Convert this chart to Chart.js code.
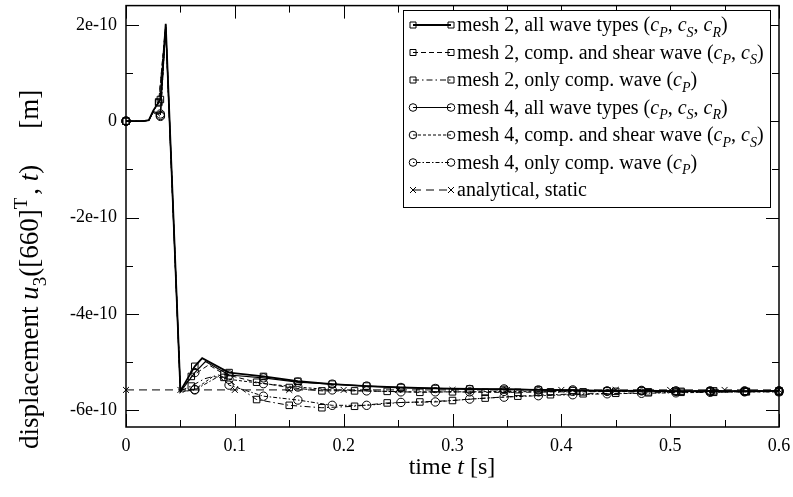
<!DOCTYPE html>
<html>
<head>
<meta charset="utf-8">
<script src="https://cdn.jsdelivr.net/npm/chart.js@4.4.0/dist/chart.umd.min.js"></script>
<style>
  html, body { margin: 0; padding: 0; background: #fff; }
</style>
</head>
<body>
<canvas id="grafico" width="793" height="497"></canvas>
<script>
// tiempos en s, desplazamientos en 1e-10 m
const tMesh2All = [0, 0.0158, 0.021, 0.025, 0.0316, 0.0365, 0.05, 0.0632, 0.07, 0.0947, 0.1263, 0.1579, 0.1895, 0.2211, 0.2526, 0.2842, 0.3158, 0.3474, 0.3789, 0.4105, 0.4421, 0.4737, 0.5053, 0.5368, 0.5684, 0.6];
const uMesh2All = [0, 0, 0.02, 0.22, 0.45, 2.02, -5.6, -5.09, -4.92, -5.22, -5.3, -5.4, -5.46, -5.5, -5.53, -5.55, -5.56, -5.57, -5.58, -5.59, -5.6, -5.6, -5.61, -5.6, -5.61, -5.6];

const tMesh2CS = [0, 0.015, 0.021, 0.025, 0.03, 0.0365, 0.05, 0.06, 0.076, 0.09, 0.12, 0.15, 0.18, 0.21, 0.24, 0.27, 0.3, 0.33, 0.36, 0.39, 0.42, 0.45, 0.48, 0.51, 0.54, 0.57, 0.6];
const uMesh2CS = [0, 0, 0.02, 0.2, 0.4, 2.0, -5.6, -5.3, -5.06, -5.25, -5.42, -5.53, -5.6, -5.6, -5.61, -5.63, -5.62, -5.63, -5.63, -5.62, -5.62, -5.61, -5.62, -5.61, -5.6, -5.61, -5.6];

const tMesh2C = [0, 0.015, 0.021, 0.025, 0.03, 0.0365, 0.05, 0.06, 0.072, 0.085, 0.09, 0.12, 0.15, 0.18, 0.21, 0.24, 0.27, 0.3, 0.33, 0.36, 0.39, 0.42, 0.45, 0.48, 0.51, 0.54, 0.57, 0.6];
const uMesh2C = [0, 0, 0.02, 0.2, 0.38, 1.98, -5.6, -5.5, -5.35, -5.27, -5.32, -5.78, -5.9, -5.95, -5.92, -5.85, -5.83, -5.8, -5.75, -5.71, -5.68, -5.66, -5.65, -5.64, -5.63, -5.63, -5.62, -5.62];

const tMesh4All = [0, 0.0158, 0.021, 0.025, 0.0316, 0.0365, 0.05, 0.0632, 0.073, 0.0947, 0.1263, 0.1579, 0.1895, 0.2211, 0.2526, 0.2842, 0.3158, 0.3474, 0.3789, 0.4105, 0.4421, 0.4737, 0.5053, 0.5368, 0.5684, 0.6];
const uMesh4All = [0, 0, 0.02, 0.2, 0.15, 1.96, -5.62, -5.22, -4.99, -5.27, -5.33, -5.42, -5.46, -5.5, -5.53, -5.55, -5.57, -5.56, -5.58, -5.58, -5.6, -5.59, -5.6, -5.61, -5.6, -5.6];

const tMesh4CS = [0, 0.0158, 0.021, 0.025, 0.0316, 0.0365, 0.05, 0.0632, 0.08, 0.0947, 0.1263, 0.1579, 0.1895, 0.2211, 0.2526, 0.2842, 0.3158, 0.3474, 0.3789, 0.4105, 0.4421, 0.4737, 0.5053, 0.5368, 0.5684, 0.6];
const uMesh4CS = [0, 0, 0.02, 0.18, 0.12, 1.94, -5.62, -5.57, -5.3, -5.36, -5.45, -5.52, -5.58, -5.6, -5.62, -5.62, -5.62, -5.61, -5.62, -5.61, -5.61, -5.6, -5.61, -5.6, -5.61, -5.6];

const tMesh4C = [0, 0.0158, 0.021, 0.025, 0.0316, 0.0365, 0.05, 0.0632, 0.085, 0.0947, 0.1263, 0.1579, 0.1895, 0.2211, 0.2526, 0.2842, 0.3158, 0.3474, 0.3789, 0.4105, 0.4421, 0.4737, 0.5053, 0.5368, 0.5684, 0.6];
const uMesh4C = [0, 0, 0.02, 0.18, 0.1, 1.92, -5.62, -5.58, -5.3, -5.48, -5.71, -5.79, -5.9, -5.9, -5.84, -5.83, -5.77, -5.73, -5.7, -5.68, -5.66, -5.65, -5.64, -5.63, -5.62, -5.62];

const tStatic = [0, 0.05, 0.1, 0.15, 0.2, 0.25, 0.3, 0.35, 0.4, 0.45, 0.5, 0.55, 0.6];
const uStatic = [-5.58, -5.58, -5.58, -5.58, -5.58, -5.58, -5.58, -5.58, -5.58, -5.58, -5.58, -5.58, -5.58];

const xTicks = [0, 0.1, 0.2, 0.3, 0.4, 0.5, 0.6];
const xTickLabels = ['0', '0.1', '0.2', '0.3', '0.4', '0.5', '0.6'];
const yTicks = [-6, -4, -2, 0, 2];
const yTickLabels = ['-6e-10', '-4e-10', '-2e-10', '0', '2e-10'];

const FUENTE = '"Liberation Serif", "Times New Roman", serif';

function puntos(t, u) {
    return t.map((v, i) => ({ x: v, y: u[i] }));
}

// marcador solo cada "paso" segundos (como en xmgrace)
function radioMarcador(paso, r) {
    return function (ctx) {
        if (!ctx.raw) return 0;
        const k = ctx.raw.x / paso;
        return Math.abs(k - Math.round(k)) < 0.02 ? r : 0;
    };
}

function serie(label, t, u, estilo, paso, dash, ancho) {
    return {
        label: label,
        data: puntos(t, u),
        borderColor: '#000',
        borderWidth: ancho,
        borderDash: dash,
        pointStyle: estilo,
        pointRadius: radioMarcador(paso, estilo === 'rect' ? 4.6 : 4.2),
        pointBorderColor: '#000',
        pointBorderWidth: 1,
        pointBackgroundColor: 'rgba(0,0,0,0)',
        tension: 0,
        clip: false
    };
}

const dashMesh2CS = [5, 3];
const dashMesh2C = [6, 3, 1.5, 3];
const dashMesh4CS = [3, 2];
const dashMesh4C = [1.5, 2, 4, 2];
const dashStatic = [8, 5];

const datasets = [
    serie('mesh 2, all wave types', tMesh2All, uMesh2All, 'rect', 0.6 / 19, [], 1.8),
    serie('mesh 2, comp. and shear wave', tMesh2CS, uMesh2CS, 'rect', 0.03, dashMesh2CS, 1),
    serie('mesh 2, only comp. wave', tMesh2C, uMesh2C, 'rect', 0.03, dashMesh2C, 1),
    serie('mesh 4, all wave types', tMesh4All, uMesh4All, 'circle', 0.6 / 19, [], 1.2),
    serie('mesh 4, comp. and shear wave', tMesh4CS, uMesh4CS, 'circle', 0.6 / 19, dashMesh4CS, 1),
    serie('mesh 4, only comp. wave', tMesh4C, uMesh4C, 'circle', 0.6 / 19, dashMesh4C, 1),
    serie('analytical, static', tStatic, uStatic, 'crossRot', 0.05, dashStatic, 1)
];

// texto con cursiva / subindice / superindice
function fuente(est, size) {
    const chico = est.sub || est.sup;
    const s = chico ? Math.round(size * 0.7) : size;
    return (est.i ? 'italic ' : '') + s + 'px ' + FUENTE;
}
function textoRico(ctx, partes, x, y, size, align) {
    let total = 0;
    const anchos = partes.map(p => {
        ctx.font = fuente(p, size);
        const w = ctx.measureText(p.t).width + (p.gap || 0);
        total += w;
        return w;
    });
    let cx = align === 'center' ? x - total / 2 : x;
    ctx.textAlign = 'left';
    ctx.textBaseline = 'alphabetic';
    partes.forEach((p, i) => {
        ctx.font = fuente(p, size);
        let dy = 0;
        if (p.sub) dy = size * 0.28;
        if (p.sup) dy = -size * 0.42;
        ctx.fillText(p.t, cx + (p.gap || 0), y + dy);
        cx += anchos[i];
    });
}

const cP = [{ t: 'c', i: 1 }, { t: 'P', i: 1, sub: 1 }];
const cS = [{ t: 'c', i: 1 }, { t: 'S', i: 1, sub: 1 }];
const cR = [{ t: 'c', i: 1 }, { t: 'R', i: 1, sub: 1 }];
const coma = [{ t: ', ' }];
const textosLeyenda = [
    [{ t: 'mesh 2, all wave types (' }, ...cP, ...coma, ...cS, ...coma, ...cR, { t: ')' }],
    [{ t: 'mesh 2, comp. and shear wave (' }, ...cP, ...coma, ...cS, { t: ')' }],
    [{ t: 'mesh 2, only comp. wave (' }, ...cP, { t: ')' }],
    [{ t: 'mesh 4, all wave types (' }, ...cP, ...coma, ...cS, ...coma, ...cR, { t: ')' }],
    [{ t: 'mesh 4, comp. and shear wave (' }, ...cP, ...coma, ...cS, { t: ')' }],
    [{ t: 'mesh 4, only comp. wave (' }, ...cP, { t: ')' }],
    [{ t: 'analytical, static' }]
];

function marcador(ctx, estilo, x, y) {
    ctx.beginPath();
    if (estilo === 'rect') {
        ctx.rect(x - 3, y - 3, 6, 6);
    } else if (estilo === 'circle') {
        ctx.arc(x, y, 3.8, 0, Math.PI * 2);
    } else {
        ctx.moveTo(x - 3, y - 3); ctx.lineTo(x + 3, y + 3);
        ctx.moveTo(x + 3, y - 3); ctx.lineTo(x - 3, y + 3);
    }
    ctx.stroke();
}

const marcoPlugin = {
    id: 'marco',
    afterDatasetsDraw(chart) {
        const ctx = chart.ctx;
        const a = chart.chartArea;
        const sx = chart.scales.x;
        const sy = chart.scales.y;
        ctx.save();
        ctx.strokeStyle = '#000';
        ctx.lineWidth = 1.5;
        ctx.setLineDash([]);
        ctx.strokeRect(a.left, a.top, a.right - a.left, a.bottom - a.top);
        ctx.lineWidth = 1;
        // ticks hacia adentro en los 4 lados
        for (let i = 0; i <= 12; i++) {
            const v = i * 0.05;
            const px = Math.round(sx.getPixelForValue(v)) + 0.5;
            const largo = i % 2 === 0 ? 13 : 7;
            ctx.beginPath();
            ctx.moveTo(px, a.bottom); ctx.lineTo(px, a.bottom - largo);
            ctx.moveTo(px, a.top); ctx.lineTo(px, a.top + largo);
            ctx.stroke();
        }
        for (let v = -6; v <= 2; v++) {
            const py = Math.round(sy.getPixelForValue(v)) + 0.5;
            const largo = v % 2 === 0 ? 13 : 7;
            ctx.beginPath();
            ctx.moveTo(a.left, py); ctx.lineTo(a.left + largo, py);
            ctx.moveTo(a.right, py); ctx.lineTo(a.right - largo, py);
            ctx.stroke();
        }
        ctx.restore();
    },
    afterDraw(chart) {
        const ctx = chart.ctx;
        ctx.save();
        ctx.fillStyle = '#000';
        ctx.strokeStyle = '#000';

        // leyenda
        const bx = 403, by = 10, bw = 367, bh = 197;
        ctx.fillStyle = '#fff';
        ctx.fillRect(bx, by, bw, bh);
        ctx.lineWidth = 1;
        ctx.strokeRect(bx + 0.5, by + 0.5, bw, bh);
        ctx.fillStyle = '#000';
        chart.data.datasets.forEach((ds, i) => {
            const y = 25 + i * 27.5;
            ctx.lineWidth = ds.borderWidth;
            ctx.setLineDash(ds.borderDash);
            ctx.beginPath();
            ctx.moveTo(413, y); ctx.lineTo(451, y);
            ctx.stroke();
            ctx.setLineDash([]);
            ctx.lineWidth = 1;
            marcador(ctx, ds.pointStyle, 413, y);
            marcador(ctx, ds.pointStyle, 451, y);
            textoRico(ctx, textosLeyenda[i], 457, y + 6, 20, 'left');
        });

        // titulo eje x
        textoRico(ctx, [{ t: 'time ' }, { t: 't', i: 1 }, { t: ' [s]' }], 452, 474, 24, 'center');

        // titulo eje y (empieza abajo)
        ctx.save();
        ctx.translate(38, 449);
        ctx.rotate(-Math.PI / 2);
        textoRico(ctx, [
            { t: 'displacement ' }, { t: 'u', i: 1 }, { t: '3', sub: 1 },
            { t: '([660]' }, { t: 'T', sup: 1 }, { t: ', ', gap: 3 }, { t: 't', i: 1 }, { t: ')' }, { t: '[m]', gap: 36 }
        ], 0, 0, 27, 'left');
        ctx.restore();
        ctx.restore();
    }
};

new Chart(document.getElementById('grafico'), {
    type: 'line',
    data: { datasets: datasets },
    options: {
        responsive: false,
        animation: false,
        events: [],
        layout: { padding: { top: 3, right: 14, left: 0, bottom: 0 } },
        plugins: { legend: { display: false }, tooltip: { enabled: false } },
        scales: {
            x: {
                type: 'linear',
                min: 0,
                max: 0.6,
                grid: { display: false, drawTicks: false },
                border: { display: false },
                afterBuildTicks: s => { s.ticks = xTicks.map(v => ({ value: v })); },
                afterFit: s => { s.height = 70; s.paddingLeft = 0; s.paddingRight = 0; },
                ticks: {
                    padding: 8,
                    color: '#000',
                    maxRotation: 0,
                    font: { family: FUENTE, size: 18 },
                    callback: (v, i) => xTickLabels[i]
                }
            },
            y: {
                type: 'linear',
                min: -6.35,
                max: 2.4,
                grid: { display: false, drawTicks: false },
                border: { display: false },
                afterBuildTicks: s => { s.ticks = yTicks.map(v => ({ value: v })); },
                afterFit: s => { s.width = 126; s.paddingTop = 0; s.paddingBottom = 0; },
                ticks: {
                    padding: 9,
                    color: '#000',
                    font: { family: FUENTE, size: 18 },
                    callback: (v, i) => yTickLabels[i]
                }
            }
        }
    },
    plugins: [marcoPlugin]
});
</script>
</body>
</html>
